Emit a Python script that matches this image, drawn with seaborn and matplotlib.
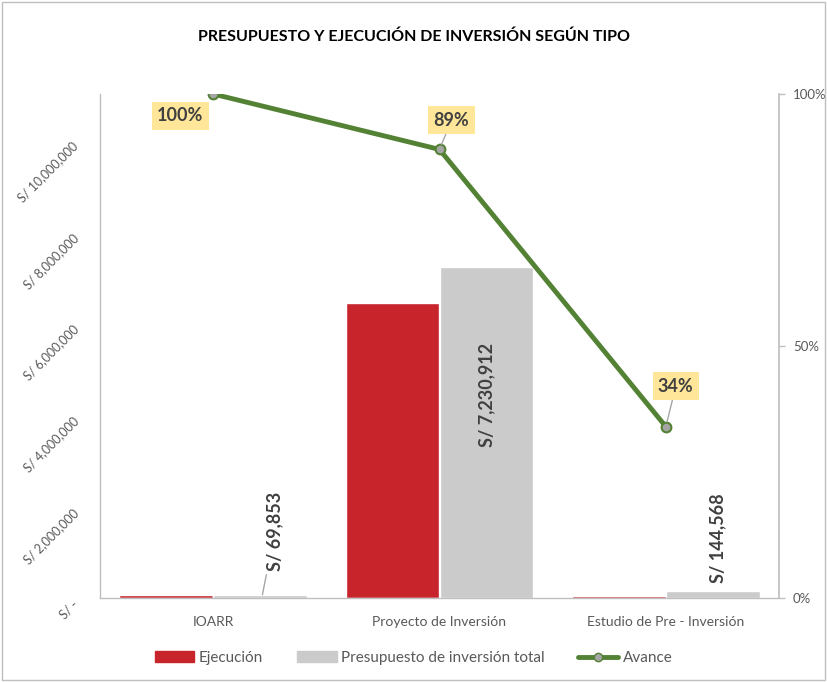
import pandas as pd
import seaborn as sns
import matplotlib.pyplot as plt
from matplotlib.patches import Rectangle, Patch
from matplotlib.lines import Line2D
from matplotlib.ticker import FuncFormatter, PercentFormatter

# Data
tipos = ['IOARR', 'Proyecto de Inversión', 'Estudio de Pre - Inversión']
ejecucion = [69853, 6440000, 49150]
presupuesto = [69853, 7230912, 144568]
avance = [1.00, 0.89, 0.34]
avance_labels = ['100%', '89%', '34%']
presupuesto_labels = ['S/ 69,853', 'S/ 7,230,912', 'S/ 144,568']

RED = '#C8242C'
GRAY = '#CBCBCB'
GREEN = '#548235'
TXT = '#595959'

sns.set_theme(style='white')
plt.rcParams['font.family'] = ['Lato', 'DejaVu Sans']

df = pd.DataFrame({
    'Tipo': tipos * 2,
    'Monto': ejecucion + presupuesto,
    'Serie': ['Ejecución'] * 3 + ['Presupuesto de inversión total'] * 3,
})

fig = plt.figure(figsize=(8.27, 6.82), dpi=100)
ax = fig.add_axes([100 / 827, 84 / 682, 679 / 827, 504 / 682])

sns.barplot(data=df, x='Tipo', y='Monto', hue='Serie', palette=[RED, GRAY],
            width=0.83, gap=0, saturation=1, ax=ax, legend=False)
ax.set_xlim(-0.5, 2.5)
ax.set_ylim(0, 11000000)
ax.set_yticks(range(0, 11000001, 2000000))
ax.yaxis.set_major_formatter(FuncFormatter(lambda v, p: 'S/ -' if v == 0 else f'S/ {v:,.0f}'))
ax.set_xlabel('')
ax.set_ylabel('')
for lbl in ax.get_yticklabels():
    lbl.set_rotation(45)
    lbl.set_ha('right')
    lbl.set_va('top')
ax.tick_params(axis='y', labelsize=9, colors=TXT, length=0, pad=14)
ax.tick_params(axis='x', labelsize=10, colors=TXT, length=0, pad=13)
for s in ['top', 'right']:
    ax.spines[s].set_visible(False)
for s in ['left', 'bottom']:
    ax.spines[s].set_color('#BFBFBF')
    ax.spines[s].set_linewidth(1)

# value labels on presupuesto bars
off = 0.83 / 4
lab = dict(rotation=90, ha='center', fontsize=13, fontweight='bold', color='#404040')
ax.annotate(presupuesto_labels[0], xy=(off + 0.01, presupuesto[0]), xytext=(off + 0.065, 580000),
            va='bottom', arrowprops=dict(arrowstyle='-', color='#A6A6A6', lw=1, shrinkA=0, shrinkB=0), **lab)
ax.text(1 + off, 4430000, presupuesto_labels[1], va='center', **lab)
ax.text(2 + off + 0.02, 330000, presupuesto_labels[2], va='bottom', **lab)

# avance line on secondary axis
ax2 = ax.twinx()
sns.lineplot(x=[0, 1, 2], y=avance, ax=ax2, color=GREEN, linewidth=3.5, marker='o',
             markersize=7, markerfacecolor='#A5A5A5', markeredgecolor=GREEN, markeredgewidth=1.5)
ax2.set_ylim(0, 1)
ax2.set_yticks([0, 0.5, 1])
ax2.yaxis.set_major_formatter(PercentFormatter(1.0, decimals=0))
ax2.tick_params(axis='y', labelsize=9.5, colors=TXT, length=4, width=1, pad=6, color='#BFBFBF')
for s in ['top', 'left', 'bottom']:
    ax2.spines[s].set_visible(False)
ax2.spines['right'].set_color('#BFBFBF')
ax2.set_xlim(-0.5, 2.5)

box = dict(boxstyle='square,pad=0.3', fc='#FFE699', ec='none')
offsets = [(-0.145, -0.043), (0.053, 0.058), (0.044, 0.08)]
for i, (v, t) in enumerate(zip(avance, avance_labels)):
    dx, dy = offsets[i]
    arrow = None if i == 0 else dict(arrowstyle='-', color='#A6A6A6', lw=1, shrinkA=0, shrinkB=4)
    ax2.annotate(t, xy=(i, v), xytext=(i + dx, v + dy), ha='center', va='center',
                 fontsize=13, fontweight='bold', color='#404040', bbox=box, arrowprops=arrow)

fig.text(0.5, 1 - 37 / 682, 'PRESUPUESTO Y EJECUCIÓN DE INVERSIÓN SEGÚN TIPO', ha='center', va='center',
         fontsize=11.5, fontweight='bold', color='black')

handles = [Patch(color=RED, label='Ejecución'),
           Patch(color=GRAY, label='Presupuesto de inversión total'),
           Line2D([], [], color=GREEN, lw=3.5, marker='o', markersize=6, markerfacecolor='#A5A5A5',
                  markeredgecolor=GREEN, label='Avance')]
fig.legend(handles=handles, loc='center', bbox_to_anchor=(0.5, 24 / 682), ncol=3, frameon=False,
           fontsize=11, labelcolor=TXT, handlelength=2.6, handleheight=0.7, columnspacing=2.2,
           handletextpad=0.3)

fig.patches.append(Rectangle((0.003, 0.003), 0.994, 0.994, transform=fig.transFigure,
                             fill=False, ec='#BFBFBF', lw=1))

fig.savefig('out.png', dpi=100)
